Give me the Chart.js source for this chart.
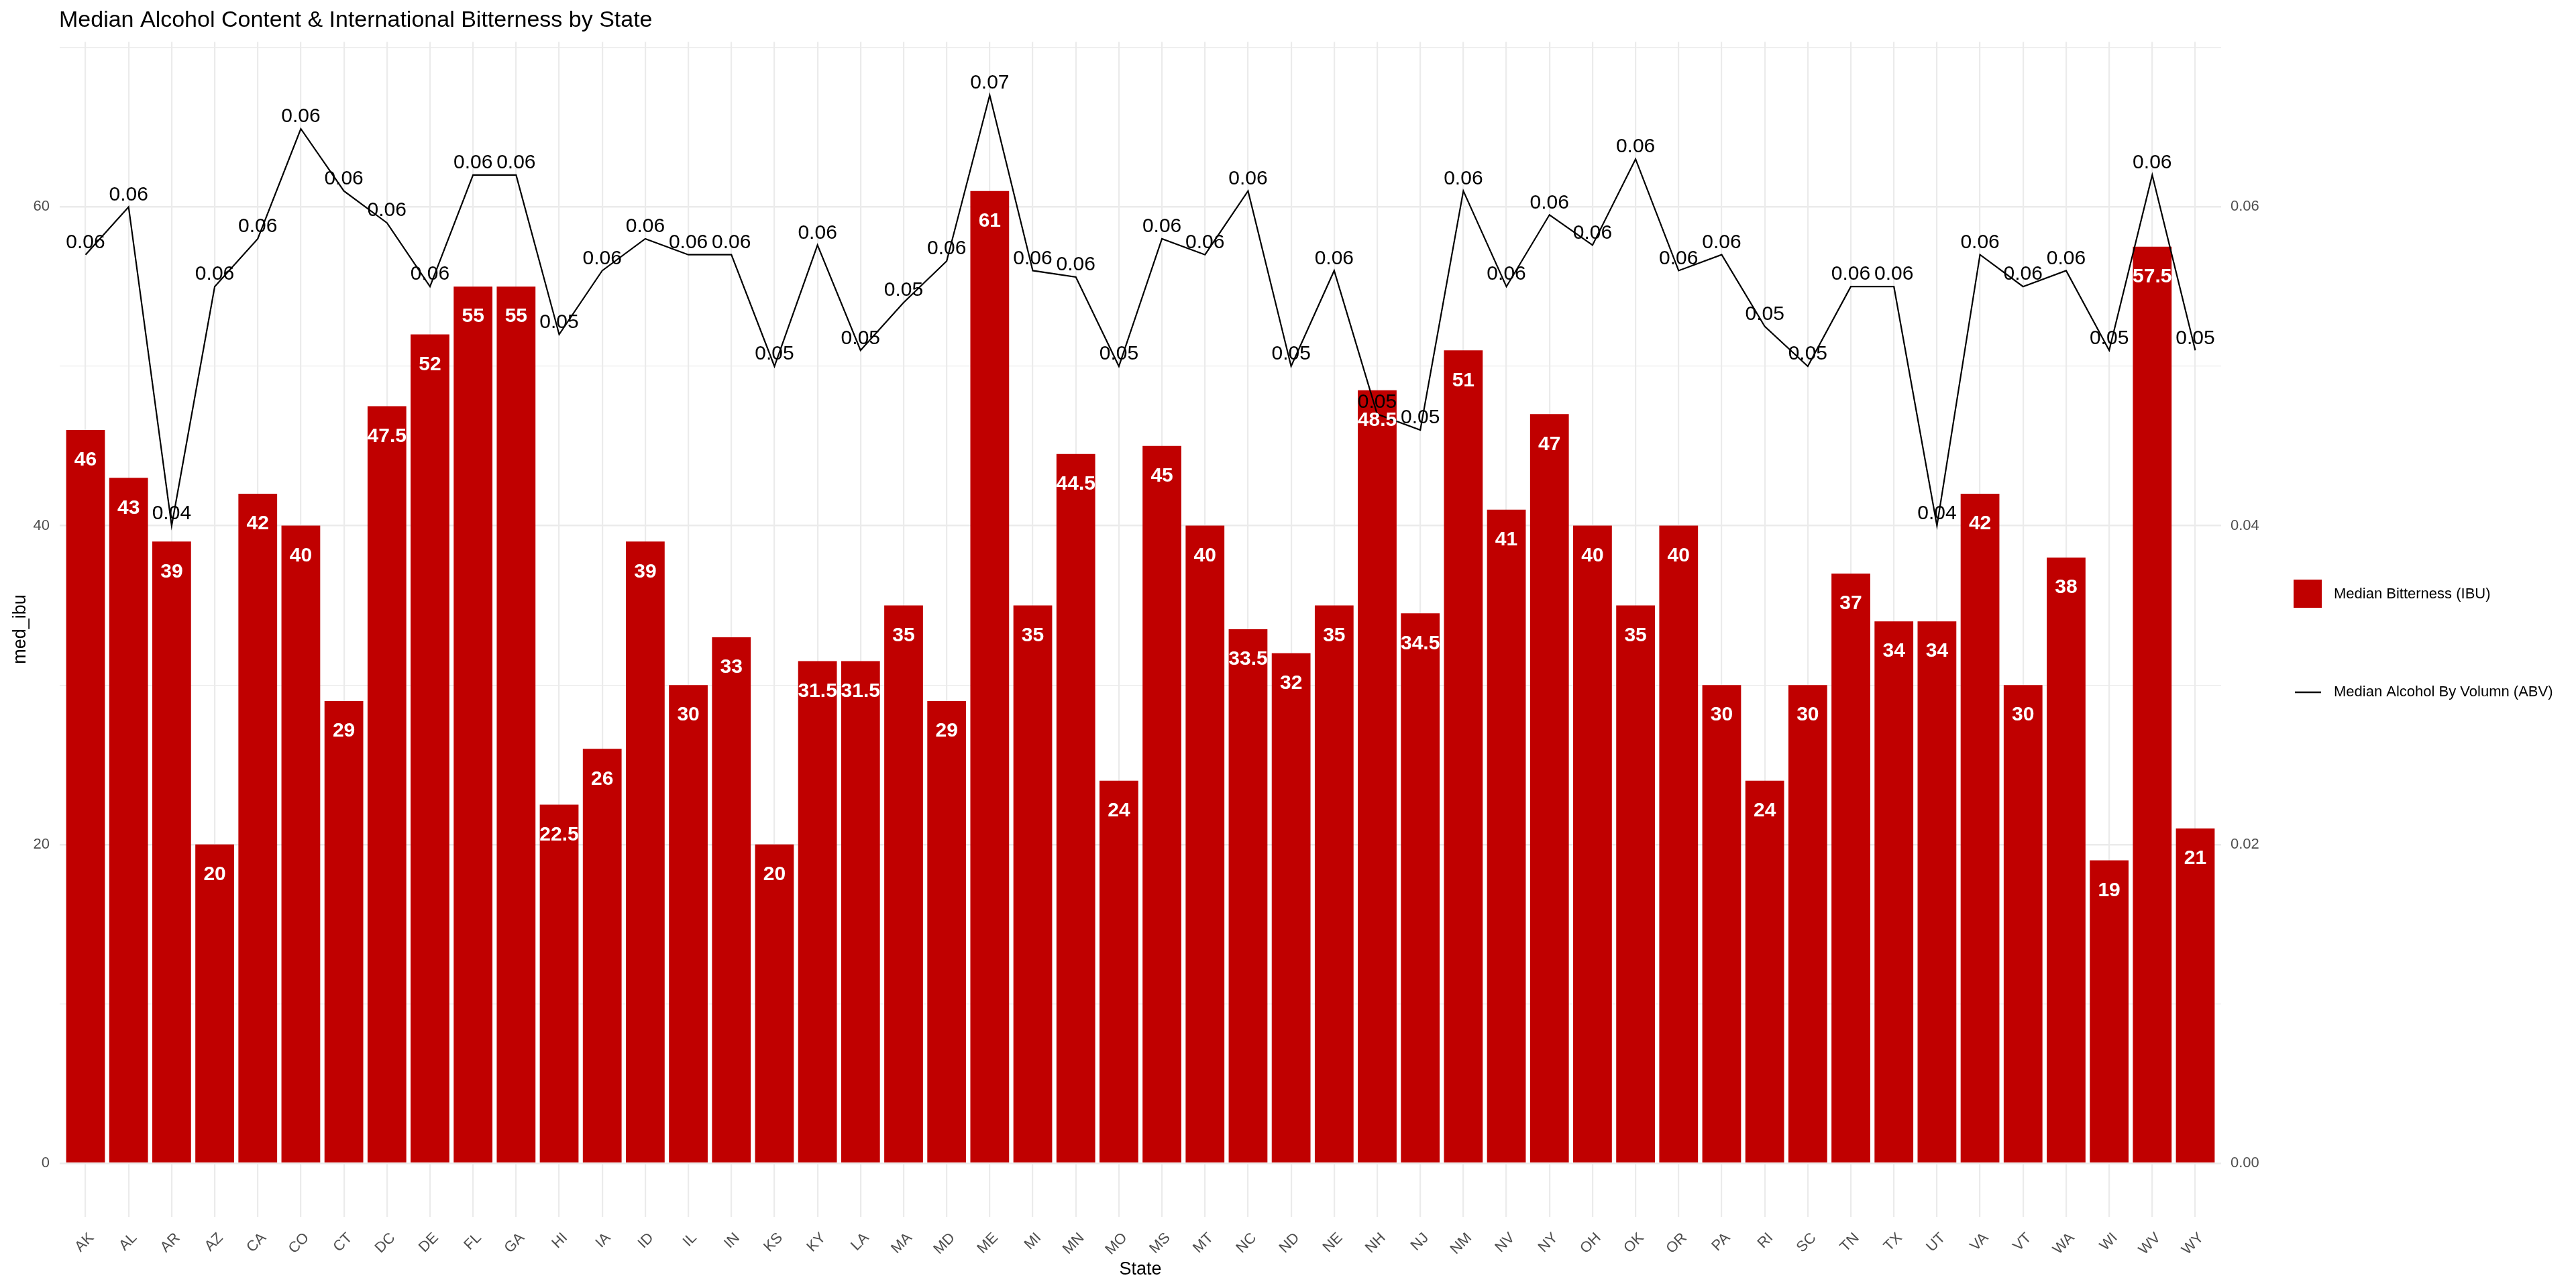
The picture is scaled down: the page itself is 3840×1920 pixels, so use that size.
<!DOCTYPE html>
<html>
<head>
<meta charset="utf-8">
<title>Median Alcohol Content & International Bitterness by State</title>
<script src="https://cdn.jsdelivr.net/npm/chart.js@4/dist/chart.umd.min.js"></script>
<style>
    html, body { margin: 0; padding: 0; background: #fff; }
    canvas { display: block; }
</style>
</head>
<body>
<canvas id="chart" width="3840" height="1920"></canvas>
<script>
const states = ['AK', 'AL', 'AR', 'AZ', 'CA', 'CO', 'CT', 'DC', 'DE', 'FL', 'GA', 'HI', 'IA', 'ID', 'IL', 'IN', 'KS', 'KY', 'LA', 'MA',
    'MD', 'ME', 'MI', 'MN', 'MO', 'MS', 'MT', 'NC', 'ND', 'NE', 'NH', 'NJ', 'NM', 'NV', 'NY', 'OH', 'OK', 'OR', 'PA', 'RI',
    'SC', 'TN', 'TX', 'UT', 'VA', 'VT', 'WA', 'WI', 'WV', 'WY'];

const medIbu = [46, 43, 39, 20, 42, 40, 29, 47.5, 52, 55, 55, 22.5, 26, 39, 30, 33, 20, 31.5, 31.5, 35,
    29, 61, 35, 44.5, 24, 45, 40, 33.5, 32, 35, 48.5, 34.5, 51, 41, 47, 40, 35, 40, 30, 24,
    30, 37, 34, 34, 42, 30, 38, 19, 57.5, 21];

const medAbv = [0.057, 0.060, 0.040, 0.055, 0.058, 0.0649, 0.061, 0.059, 0.055, 0.062, 0.062, 0.052, 0.056, 0.058, 0.057, 0.057, 0.050, 0.0576, 0.051, 0.054,
    0.0566, 0.067, 0.056, 0.0556, 0.050, 0.058, 0.057, 0.061, 0.050, 0.056, 0.047, 0.046, 0.061, 0.055, 0.0595, 0.0576, 0.063, 0.056, 0.057, 0.0525,
    0.050, 0.055, 0.055, 0.040, 0.057, 0.055, 0.056, 0.051, 0.062, 0.051];

const ibuTicks = [0, 10, 20, 30, 40, 50, 60, 70];
const abvTicks = [0, 0.02, 0.04, 0.06];

const chartTitle = 'Median Alcohol Content & International Bitterness by State';
const legendItems = ['Median Bitterness (IBU)', 'Median Alcohol By Volumn (ABV)'];

const FONT = '"Liberation Sans", Arial, sans-serif';
const BAR_COLOR = '#c00000';
const GRID_COLOR = '#ebebeb';

// ggplot-ish text: line labels, bar labels, titles and legend
const annotations = {
    id: 'annotations',
    afterDatasetsDraw(chart) {
        const ctx = chart.ctx;
        const bars = chart.getDatasetMeta(0).data;
        const points = chart.getDatasetMeta(1).data;
        ctx.save();
        ctx.textAlign = 'center';
        ctx.textBaseline = 'middle';

        ctx.fillStyle = '#000';
        ctx.font = `30px ${FONT}`;
        points.forEach((p, i) => {
            ctx.fillText(medAbv[i].toFixed(2), p.x, p.y - 18);
        });

        ctx.fillStyle = '#fff';
        ctx.font = `bold 30px ${FONT}`;
        bars.forEach((b, i) => {
            ctx.fillText(String(medIbu[i]), b.x, b.y + 45);
        });
        ctx.restore();
    },
    afterDraw(chart) {
        const ctx = chart.ctx;
        const area = chart.chartArea;
        ctx.save();
        ctx.fillStyle = '#000';
        ctx.textBaseline = 'middle';

        ctx.font = `34px ${FONT}`;
        ctx.textAlign = 'left';
        ctx.fillText(chartTitle, 88, 31);

        ctx.font = `27px ${FONT}`;
        ctx.textAlign = 'center';
        ctx.fillText('State', (area.left + area.right) / 2, 1893);

        ctx.save();
        ctx.translate(31, (area.top + area.bottom) / 2);
        ctx.rotate(-Math.PI / 2);
        ctx.fillText('med_ibu', 0, 0);
        ctx.restore();

        // legend
        ctx.fillStyle = BAR_COLOR;
        ctx.fillRect(3419, 864, 42, 42);
        ctx.strokeStyle = '#000';
        ctx.lineWidth = 2.5;
        ctx.beginPath();
        ctx.moveTo(3421, 1032);
        ctx.lineTo(3460, 1032);
        ctx.stroke();

        ctx.fillStyle = '#000';
        ctx.font = `22px ${FONT}`;
        ctx.textAlign = 'left';
        ctx.fillText(legendItems[0], 3479, 886);
        ctx.fillText(legendItems[1], 3479, 1032);
        ctx.restore();
    }
};

const tickFont = { family: FONT, size: 22 };

new Chart(document.getElementById('chart'), {
    type: 'bar',
    data: {
        datasets: [{
            type: 'bar',
            label: legendItems[0],
            data: medIbu.map((v, i) => ({ x: i, y: v })),
            backgroundColor: BAR_COLOR,
            categoryPercentage: 1,
            barPercentage: 0.9,
            yAxisID: 'y',
            order: 2
        }, {
            type: 'line',
            label: legendItems[1],
            data: medAbv.map((v, i) => ({ x: i, y: v })),
            borderColor: '#000',
            borderWidth: 2.2,
            pointRadius: 0,
            tension: 0,
            fill: false,
            yAxisID: 'y2',
            order: 1
        }]
    },
    options: {
        responsive: false,
        animation: false,
        devicePixelRatio: 1,
        layout: { padding: { top: 62.5, left: 0, right: 0, bottom: 0 } },
        plugins: {
            legend: { display: false },
            tooltip: { enabled: false }
        },
        scales: {
            x: {
                type: 'linear',
                offset: false,
                min: -0.6,
                max: states.length - 0.4,
                afterBuildTicks: (scale) => { scale.ticks = states.map((s, i) => ({ value: i })); },
                afterFit: (scale) => { scale.height = 106.4; },
                ticks: {
                    autoSkip: false,
                    minRotation: 45,
                    maxRotation: 45,
                    padding: 19,
                    labelOffset: 9,
                    color: '#4d4d4d',
                    font: tickFont,
                    callback: (v) => states[v]
                },
                grid: { offset: false, color: GRID_COLOR, lineWidth: 2.2, drawTicks: false },
                border: { display: false }
            },
            y: {
                position: 'left',
                min: -3.35,
                max: 70.35,
                afterBuildTicks: (scale) => { scale.ticks = ibuTicks.map(v => ({ value: v })); },
                afterFit: (scale) => { scale.width = 89; },
                ticks: {
                    padding: 15,
                    color: '#4d4d4d',
                    font: tickFont,
                    callback: (v) => v % 20 === 0 ? String(v) : ''
                },
                grid: {
                    color: GRID_COLOR,
                    lineWidth: (ctx) => ctx.tick && ctx.tick.value % 20 === 0 ? 2.4 : 1.2,
                    drawTicks: false
                },
                border: { display: false }
            },
            y2: {
                position: 'right',
                min: -0.00335,
                max: 0.07035,
                afterBuildTicks: (scale) => { scale.ticks = abvTicks.map(v => ({ value: v })); },
                afterFit: (scale) => { scale.width = 529; },
                ticks: {
                    padding: 14,
                    color: '#4d4d4d',
                    font: tickFont,
                    callback: (v) => v.toFixed(2)
                },
                grid: { display: false, drawTicks: false },
                border: { display: false }
            }
        }
    },
    plugins: [annotations]
});
</script>
</body>
</html>
